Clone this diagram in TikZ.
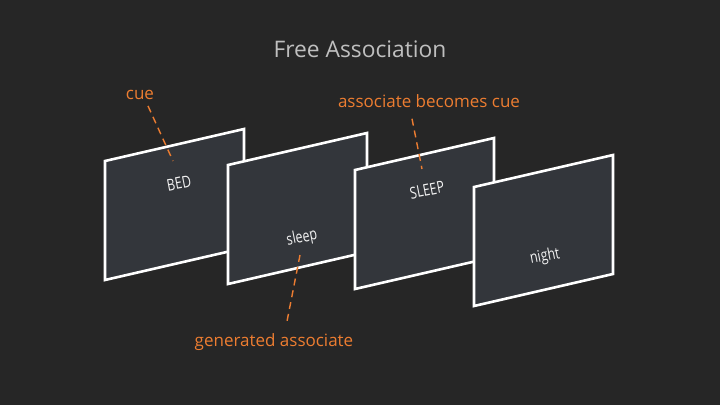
\documentclass[tikz,border=0pt]{standalone}
\usepackage{fontspec}
\setmainfont{Open Sans}
\usetikzlibrary{calc}
\definecolor{bgdark}{HTML}{262626}
\definecolor{panelgray}{HTML}{33363B}
\definecolor{cueorange}{HTML}{ED7D31}
\definecolor{titlegray}{HTML}{BFBFBF}
\newcommand{\tallword}[1]{\scalebox{1}[1.3]{#1}}

\begin{document}
\begin{tikzpicture}[x=1pt,y=-1pt,
  panel/.style={fill=panelgray, draw=white, line width=2.6pt, line join=miter},
  word/.style={text=white!95!black, font=\fontsize{12.5}{14}\selectfont, rotate=11, inner sep=0pt},
  note/.style={text=cueorange, font=\fontsize{17}{20}\selectfont, inner sep=0pt},
  hint/.style={draw=cueorange, line width=1.4pt, dash pattern=on 7pt off 5pt}]
\fill[bgdark] (0,0) rectangle (720,405);
\useasboundingbox (0,0) rectangle (720,405);

\node[text=titlegray, font=\fontsize{22.8}{26}\selectfont] (title) at (360,49) {Free Association};

% panels, back to front
\foreach \px/\py in {105/161, 228/165, 355/170, 474/187}
  \draw[panel] (\px,\py) -- ++(139,-32) -- ++(0,119) -- ++(-139,32) -- cycle;

\node[word] (bed) at (179,183) {\tallword{BED}};
\node[word] (sleep) at (302,238) {\tallword{sleep}};
\node[word] (SLEEP) at (427,190) {\tallword{SLEEP}};
\node[word] (night) at (545,257) {\tallword{night}};

\node[note] (cue) at (140,95) {cue};
\node[note] (becomes) at (429,101) {associate becomes cue};
\node[note] (generated) at (274,342) {generated associate};

\coordinate (cueend) at (173,161);
\coordinate (becend) at (422,169);
\coordinate (genend) at (300,255);

\draw[hint] ($(cue.south)+(8,6)$) -- (cueend);
\draw[hint] ($(becomes.south)+(-17,11)$) -- (becend);
\draw[hint] (genend) -- ($(generated.north)+(13,-12)$);
\end{tikzpicture}
\end{document}
